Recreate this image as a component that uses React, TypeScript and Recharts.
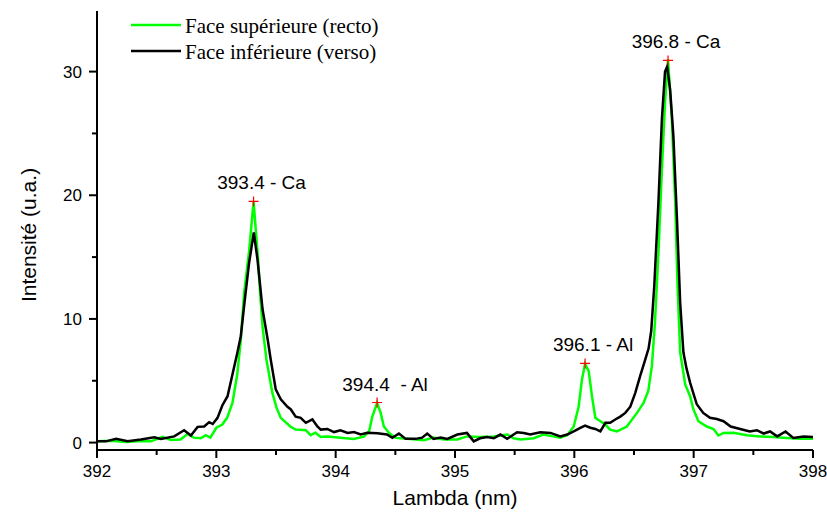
import React from 'react';
import { ComposedChart, Line, Scatter, XAxis, YAxis, Legend } from 'recharts';

// spectra (nm, u.a.)
const lambdaRecto = [
  392.005, 392.117, 392.243, 392.368, 392.452, 392.55, 392.62, 392.7, 392.76, 392.81,
  392.87, 392.91, 392.95, 393.0, 393.05, 393.09, 393.135, 393.175, 393.205, 393.233,
  393.275, 393.312, 393.35, 393.367, 393.387, 393.42, 393.47, 393.505, 393.54, 393.62,
  393.665, 393.75, 393.79, 393.83, 393.875, 393.93, 394.04, 394.15, 394.237, 394.28,
  394.307, 394.347, 394.377, 394.404, 394.446, 394.502, 394.6, 394.74, 394.82, 394.906,
  395.02, 395.1, 395.21, 395.325, 395.44, 395.49, 395.55, 395.66, 395.74, 395.82,
  395.88, 395.94, 395.995, 396.036, 396.064, 396.09, 396.12, 396.148, 396.176, 396.218,
  396.26, 396.3, 396.357, 396.44, 396.525, 396.58, 396.62, 396.65, 396.675, 396.705,
  396.734, 396.76, 396.785, 396.817, 396.845, 396.865, 396.887, 396.929, 396.97, 396.998,
  397.04, 397.11, 397.166, 397.207, 397.25, 397.333, 397.445, 397.556, 397.667, 397.78,
  397.89, 398.0,
];
const intensRecto = [
  0.1, 0.15, 0.05, 0.12, 0.1, 0.46, 0.2, 0.25, 0.7, 0.4,
  0.35, 0.6, 0.4, 1.2, 1.46, 2.0, 3.2, 5.5, 8.3, 12.1,
  15.5, 19.5, 14.8, 12.1, 9.4, 6.7, 4.0, 2.8, 2.0, 1.3,
  1.05, 1.0, 0.6, 0.8, 0.46, 0.5, 0.4, 0.3, 0.48, 0.9,
  2.1, 3.2, 2.4, 1.3, 0.8, 0.38, 0.3, 0.19, 0.4, 0.25,
  0.25, 0.5, 0.45, 0.5, 0.65, 0.35, 0.25, 0.35, 0.65, 0.5,
  0.4, 0.6, 1.3, 2.9, 5.1, 6.35, 5.8, 3.75, 2.0, 1.73,
  1.46, 1.05, 0.9, 1.3, 2.4, 3.2, 4.2, 6.2, 9.6, 15.4,
  22.1, 27.5, 31.0, 26.2, 19.5, 12.7, 7.3, 4.7, 3.75, 2.68,
  1.73, 1.3, 1.1, 0.57, 0.78, 0.8, 0.6, 0.5, 0.45, 0.38,
  0.3, 0.3,
];

const lambdaVerso = [
  392.005, 392.075, 392.16, 392.257, 392.368, 392.48, 392.535, 392.647, 392.73, 392.787,
  392.843, 392.898, 392.94, 392.97, 393.01, 393.05, 393.094, 393.135, 393.177, 393.205,
  393.238, 393.274, 393.314, 393.345, 393.387, 393.43, 393.456, 393.498, 393.54, 393.596,
  393.623, 393.665, 393.707, 393.75, 393.805, 393.847, 393.875, 393.93, 393.986, 394.04,
  394.1, 394.153, 394.21, 394.265, 394.35, 394.43, 394.475, 394.53, 394.586, 394.67,
  394.725, 394.767, 394.82, 394.88, 394.935, 395.02, 395.1, 395.157, 395.21, 395.27,
  395.325, 395.38, 395.437, 395.52, 395.576, 395.63, 395.715, 395.8, 395.883, 395.94,
  395.995, 396.05, 396.09, 396.134, 396.176, 396.218, 396.26, 396.3, 396.343, 396.385,
  396.427, 396.469, 396.51, 396.552, 396.594, 396.622, 396.644, 396.67, 396.705, 396.734,
  396.76, 396.778, 396.803, 396.83, 396.86, 396.887, 396.914, 396.94, 396.97, 397.026,
  397.08, 397.137, 397.194, 397.25, 397.31, 397.39, 397.47, 397.53, 397.586, 397.64,
  397.7, 397.77, 397.835, 397.92, 398.0,
];
const intensVerso = [
  0.1, 0.1, 0.3, 0.1, 0.25, 0.43, 0.3, 0.5, 1.0, 0.57,
  1.27, 1.3, 1.65, 1.5, 2.0, 3.0, 3.75, 5.5, 7.3, 8.6,
  11.5, 14.5, 17.0, 14.8, 10.8, 8.35, 6.7, 4.3, 3.5, 2.9,
  2.7, 2.1, 2.0, 1.6, 1.87, 1.3, 1.05, 1.1, 0.85, 1.0,
  0.78, 0.85, 0.65, 0.8, 0.75, 0.65, 0.38, 0.73, 0.3, 0.3,
  0.4, 0.73, 0.3, 0.4, 0.3, 0.65, 0.78, 0.1, 0.35, 0.45,
  0.35, 0.65, 0.3, 0.84, 0.78, 0.65, 0.84, 0.78, 0.5, 0.65,
  0.9, 1.19, 1.38, 1.2, 1.1, 0.9, 1.6, 1.6, 1.87, 2.1,
  2.4, 2.9, 4.0, 5.4, 6.7, 7.6, 9.0, 12.7, 19.5, 26.2,
  30.0, 30.4, 28.5, 24.8, 18.1, 11.3, 7.3, 6.0, 4.85, 3.1,
  2.4, 2.0, 1.9, 1.73, 1.3, 1.1, 0.9, 1.0, 0.73, 0.9,
  0.5, 0.9, 0.38, 0.5, 0.46,
];

// identified emission lines
const peakLambda = [393.312, 394.347, 396.09, 396.785];
const peakIntens = [19.5, 3.24, 6.4, 30.9];
const peakLabels = ['393.4 - Ca', '394.4  - Al', '396.1 - Al', '396.8 - Ca'];

const xTicks = [392, 392.5, 393, 393.5, 394, 394.5, 395, 395.5, 396, 396.5, 397, 397.5, 398];
const yTicks = [0, 5, 10, 15, 20, 25, 30];

const recto = lambdaRecto.map((x, i) => ({ x, y: intensRecto[i] }));
const verso = lambdaVerso.map((x, i) => ({ x, y: intensVerso[i] }));
const peaks = peakLambda.map((x, i) => ({ x, y: peakIntens[i], label: peakLabels[i] }));

const SANS = '"Liberation Sans", Arial, sans-serif';
const SERIF = '"Liberation Serif", "Times New Roman", serif';

// plot frame: left axis at x=97, bottom axis at y=450
const AXIS_X = 97;
const AXIS_Y = 450;

const XTick = ({ x, payload }: any) => {
  const major = Number.isInteger(payload.value);
  return (
    <g>
      <line x1={x} y1={AXIS_Y} x2={x} y2={AXIS_Y + (major ? 8 : 5)} stroke="#000" strokeWidth={2} />
      {major && (
        <text x={x} y={AXIS_Y + 27} textAnchor="middle" fontFamily={SANS} fontSize={17} fill="#000">
          {payload.value}
        </text>
      )}
    </g>
  );
};

const YTick = ({ y, payload }: any) => {
  const major = payload.value % 10 === 0;
  return (
    <g>
      <line x1={AXIS_X} y1={y} x2={AXIS_X - (major ? 8 : 5)} y2={y} stroke="#000" strokeWidth={2} />
      {major && (
        <text x={AXIS_X - 15} y={y} dy="0.35em" textAnchor="end" fontFamily={SANS} fontSize={17} fill="#000">
          {payload.value}
        </text>
      )}
    </g>
  );
};

const PeakMark = ({ cx, cy, payload }: any) => (
  <g>
    <path d={`M${cx - 5},${cy}H${cx + 5}M${cx},${cy - 5}V${cy + 5}`} stroke="#ff0000" strokeWidth={1.2} />
    <text
      x={cx + 8}
      y={cy - 12}
      textAnchor="middle"
      fontFamily={SANS}
      fontSize={19}
      fill="#000"
      style={{ whiteSpace: 'pre' }}
    >
      {payload.label}
    </text>
  </g>
);

const renderLegend = () => (
  <svg width={400} height={70}>
    <line x1={131} y1={25} x2={181} y2={25} stroke="#00ff00" strokeWidth={2.5} />
    <text x={185} y={33} fontFamily={SERIF} fontSize={21} fill="#000">
      Face supérieure (recto)
    </text>
    <line x1={131} y1={51} x2={181} y2={51} stroke="#000" strokeWidth={2.5} />
    <text x={185} y={59} fontFamily={SERIF} fontSize={21} fill="#000">
      Face inférieure (verso)
    </text>
  </svg>
);

const App: React.FC = () => {
  return (
    <div style={{ position: 'absolute', left: 0, top: 0, width: 827, height: 518, background: '#fff' }}>
      <ComposedChart width={827} height={518} margin={{ top: 11, right: 14, bottom: 0, left: 0 }}>
        <XAxis
          dataKey="x"
          type="number"
          domain={[392, 398]}
          ticks={xTicks}
          interval={0}
          tickSize={0}
          tickMargin={0}
          tickLine={false}
          tick={<XTick />}
          height={68}
          axisLine={{ stroke: '#000', strokeWidth: 2 }}
          label={{
            content: () => (
              <text x={455} y={505} textAnchor="middle" fontFamily={SANS} fontSize={21} fill="#000">
                Lambda (nm)
              </text>
            ),
          }}
        />
        <YAxis
          dataKey="y"
          type="number"
          domain={[-0.6, 34.9]}
          ticks={yTicks}
          interval={0}
          tickSize={0}
          tickMargin={0}
          tickLine={false}
          tick={<YTick />}
          width={97}
          axisLine={{ stroke: '#000', strokeWidth: 2 }}
          label={{
            content: () => (
              <text
                x={36}
                y={235}
                transform="rotate(-90 36 235)"
                textAnchor="middle"
                fontFamily={SANS}
                fontSize={21}
                fill="#000"
              >
                Intensité (u.a.)
              </text>
            ),
          }}
        />
        <Legend
          layout="vertical"
          align="center"
          verticalAlign="middle"
          content={renderLegend}
          wrapperStyle={{ position: 'absolute', left: 0, top: 0, width: 400, height: 70 }}
        />
        <Line
          data={recto}
          dataKey="y"
          name="Face supérieure (recto)"
          type="linear"
          stroke="#00ff00"
          strokeWidth={2.5}
          dot={false}
          isAnimationActive={false}
        />
        <Line
          data={verso}
          dataKey="y"
          name="Face inférieure (verso)"
          type="linear"
          stroke="#000000"
          strokeWidth={2.5}
          dot={false}
          isAnimationActive={false}
        />
        <Scatter data={peaks} dataKey="y" shape={<PeakMark />} legendType="none" isAnimationActive={false} />
      </ComposedChart>
    </div>
  );
};

export default App;
